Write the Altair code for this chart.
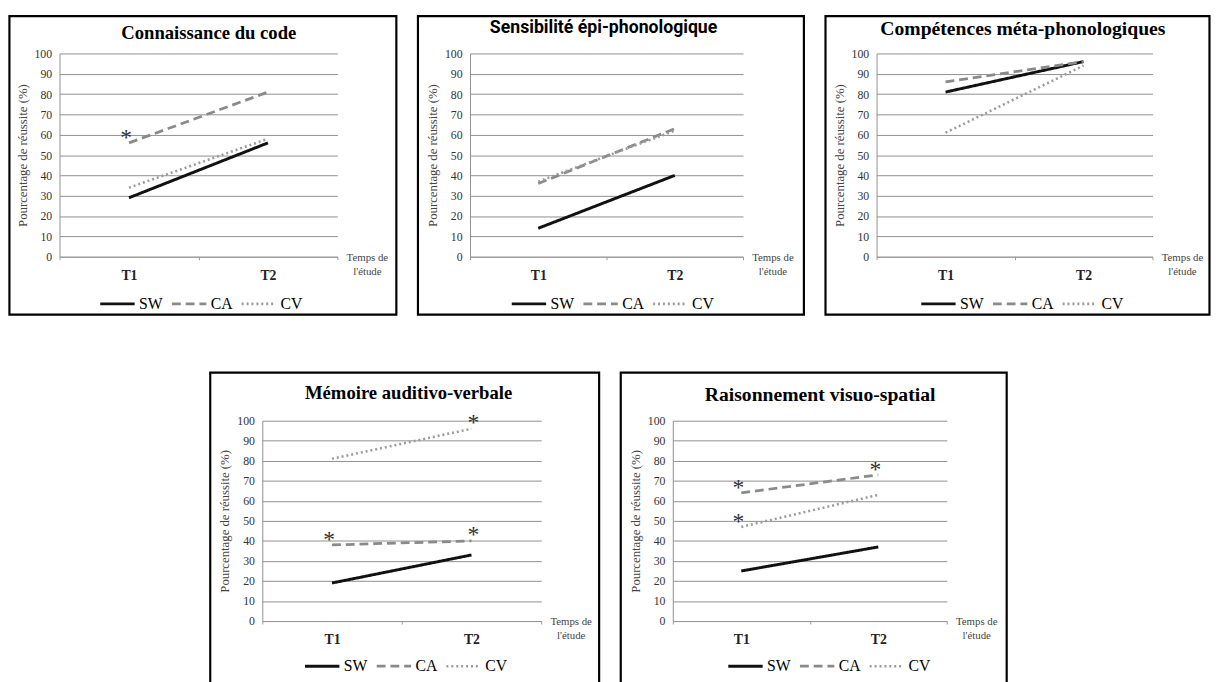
import altair as alt
import pandas as pd

# ---------------- data ----------------
titles = [
    "Connaissance du code",
    "Sensibilité épi-phonologique",
    "Compétences méta-phonologiques",
    "Mémoire auditivo-verbale",
    "Raisonnement visuo-spatial",
]
times = ["T1", "T2"]
groups = ["SW", "CA", "CV"]
sw_values = [[29, 56], [14, 40], [81, 96], [19, 33], [25, 37]]
ca_values = [[56, 81], [36, 63], [86, 96], [38, 40], [64, 73]]
cv_values = [[34, 58], [37, 62], [61, 94], [81, 96], [47, 63]]
# significance asterisks: panel, group, time, side of the point
star_panel = [0, 3, 3, 3, 4, 4, 4]
star_group = ["CA", "CA", "CA", "CV", "CA", "CV", "CA"]
star_time = ["T1", "T1", "T2", "T2", "T1", "T1", "T2"]
star_side = ["left", "left", "right", "right", "left", "left", "left"]
y_ticks = list(range(0, 101, 10))
y_title = "Pourcentage de réussite (%)"
x_title = ["Temps de", "l'étude"]

# ---------------- styles ----------------
SERIF = "Liberation Serif"
colors = ["#111111", "#8a8a8a", "#9a9a9a"]
dashes = [[1, 0], [9, 5], [2, 3]]
widths = [3, 2.6, 2.4]

layout = [
    dict(W=283, H=207, L=-51, R=60, T=-38, B=59, tx=152, ty=-21, lx=40, ly=236, font=SERIF, fs=19),
    dict(W=278, H=207, L=-53, R=62, T=-38, B=59, tx=136, ty=-26, lx=41, ly=236, font="Roboto", fs=18),
    dict(W=281, H=207, L=-52, R=58, T=-38, B=59, tx=149, ty=-25, lx=44, ly=236, font=SERIF, fs=20),
    dict(W=284, H=204, L=-53, R=59, T=-49, B=66, tx=149, ty=-28, lx=42, ly=231, font=SERIF, fs=19),
    dict(W=279, H=204, L=-53, R=61, T=-49, B=66, tx=150, ty=-26, lx=55, ly=231, font=SERIF, fs=20),
]

rows = []
series = {"SW": sw_values, "CA": ca_values, "CV": cv_values}
for p in range(len(titles)):
    for g in groups:
        for ti, t in enumerate(times):
            side = ""
            for sp, sg, st, ss in zip(star_panel, star_group, star_time, star_side):
                if sp == p and sg == g and st == t:
                    side = ss
            rows.append(dict(panel=p, group=g, time=t, value=series[g][p][ti], star=side))
df = pd.DataFrame(rows)
one = pd.DataFrame({"k": [0]})


def panel(p):
    c = layout[p]
    W, H = c["W"], c["H"]
    d = df[df.panel == p]

    x_enc = alt.X(
        "time:N",
        bandPosition=0.5,
        scale=alt.Scale(domain=times, type="band", paddingInner=0, paddingOuter=0),
        axis=alt.Axis(
            labelAngle=0, labelFont=SERIF, labelFontWeight="bold", labelFontSize=14,
            labelColor="#222222", labelPadding=9, tickBand="extent", tickSize=3,
            tickColor="#999999", domainColor="#999999", grid=False,
            titleFont=SERIF, titleFontSize=11, titleFontWeight="normal", titleColor="#444444",
            titleAngle=0, titleAlign="center", titleBaseline="top",
            titleX=W + 30, titleY=-5, titleLineHeight=14,
        ),
        title=x_title,
    )
    y_enc = alt.Y(
        "value:Q",
        scale=alt.Scale(domain=[0, 100], nice=False, zero=True),
        axis=alt.Axis(
            values=y_ticks, grid=True, gridColor="#8f8f8f", gridWidth=1,
            domainColor="#8f8f8f", ticks=False, labelFont=SERIF, labelFontSize=12,
            labelColor="#333333", labelPadding=8, titleFont=SERIF, titleFontSize=13,
            titleFontWeight="normal", titleColor="#444444", titlePadding=5,
        ),
        title=y_title,
    )
    leg = alt.Legend(
        title=None, orient="none", legendX=c["lx"], legendY=c["ly"], direction="horizontal",
        symbolType="stroke", symbolSize=1225, symbolStrokeWidth=3, labelFont=SERIF,
        labelFontSize=16, labelColor="#000000", columnPadding=3, labelOffset=3, padding=0,
    )

    box = alt.Chart(one).mark_rect(fill="transparent", stroke="#000000", strokeWidth=2.2).encode(
        x=alt.value(c["L"]), x2=alt.value(W + c["R"]),
        y=alt.value(c["T"]), y2=alt.value(H + c["B"]),
    )
    ttl = alt.Chart(one).mark_text(
        text=titles[p], font=c["font"], fontSize=c["fs"], fontWeight="bold",
        color="#000000", align="center", baseline="middle",
    ).encode(x=alt.value(c["tx"]), y=alt.value(c["ty"]))

    base = alt.Chart(d)
    lines = base.mark_line().encode(
        x=x_enc, y=y_enc,
        color=alt.Color("group:N", scale=alt.Scale(domain=groups, range=colors), legend=leg),
        strokeDash=alt.StrokeDash("group:N", scale=alt.Scale(domain=groups, range=dashes), legend=leg),
        strokeWidth=alt.StrokeWidth("group:N", scale=alt.Scale(domain=groups, range=widths), legend=None),
        detail="group:N",
    )
    star_l = base.transform_filter(alt.datum.star == "left").mark_text(
        text="*", font=SERIF, fontSize=24, color="#333333", dx=-3, dy=2, baseline="alphabetic"
    ).encode(x=x_enc, y=y_enc)
    star_r = base.transform_filter(alt.datum.star == "right").mark_text(
        text="*", font=SERIF, fontSize=24, color="#333333", dx=2, dy=1, baseline="alphabetic"
    ).encode(x=x_enc, y=y_enc)

    return alt.layer(box, ttl, lines, star_l, star_r).properties(width=W, height=H)


def indep(ch):
    return ch.resolve_scale(
        x="independent", y="independent", color="independent",
        strokeDash="independent", strokeWidth="independent",
    ).resolve_legend(color="independent", strokeDash="independent", strokeWidth="independent")


top = indep(alt.hconcat(panel(0), panel(1), panel(2), spacing=18))
bottom = indep(alt.hconcat(panel(3), panel(4), spacing=18))
chart = indep(alt.vconcat(top, bottom, spacing=55, center=True)).properties(
    padding=0, background="#ffffff"
).configure_view(strokeWidth=0)

chart.save("out.html", embed_options={"renderer": "svg", "actions": False})
